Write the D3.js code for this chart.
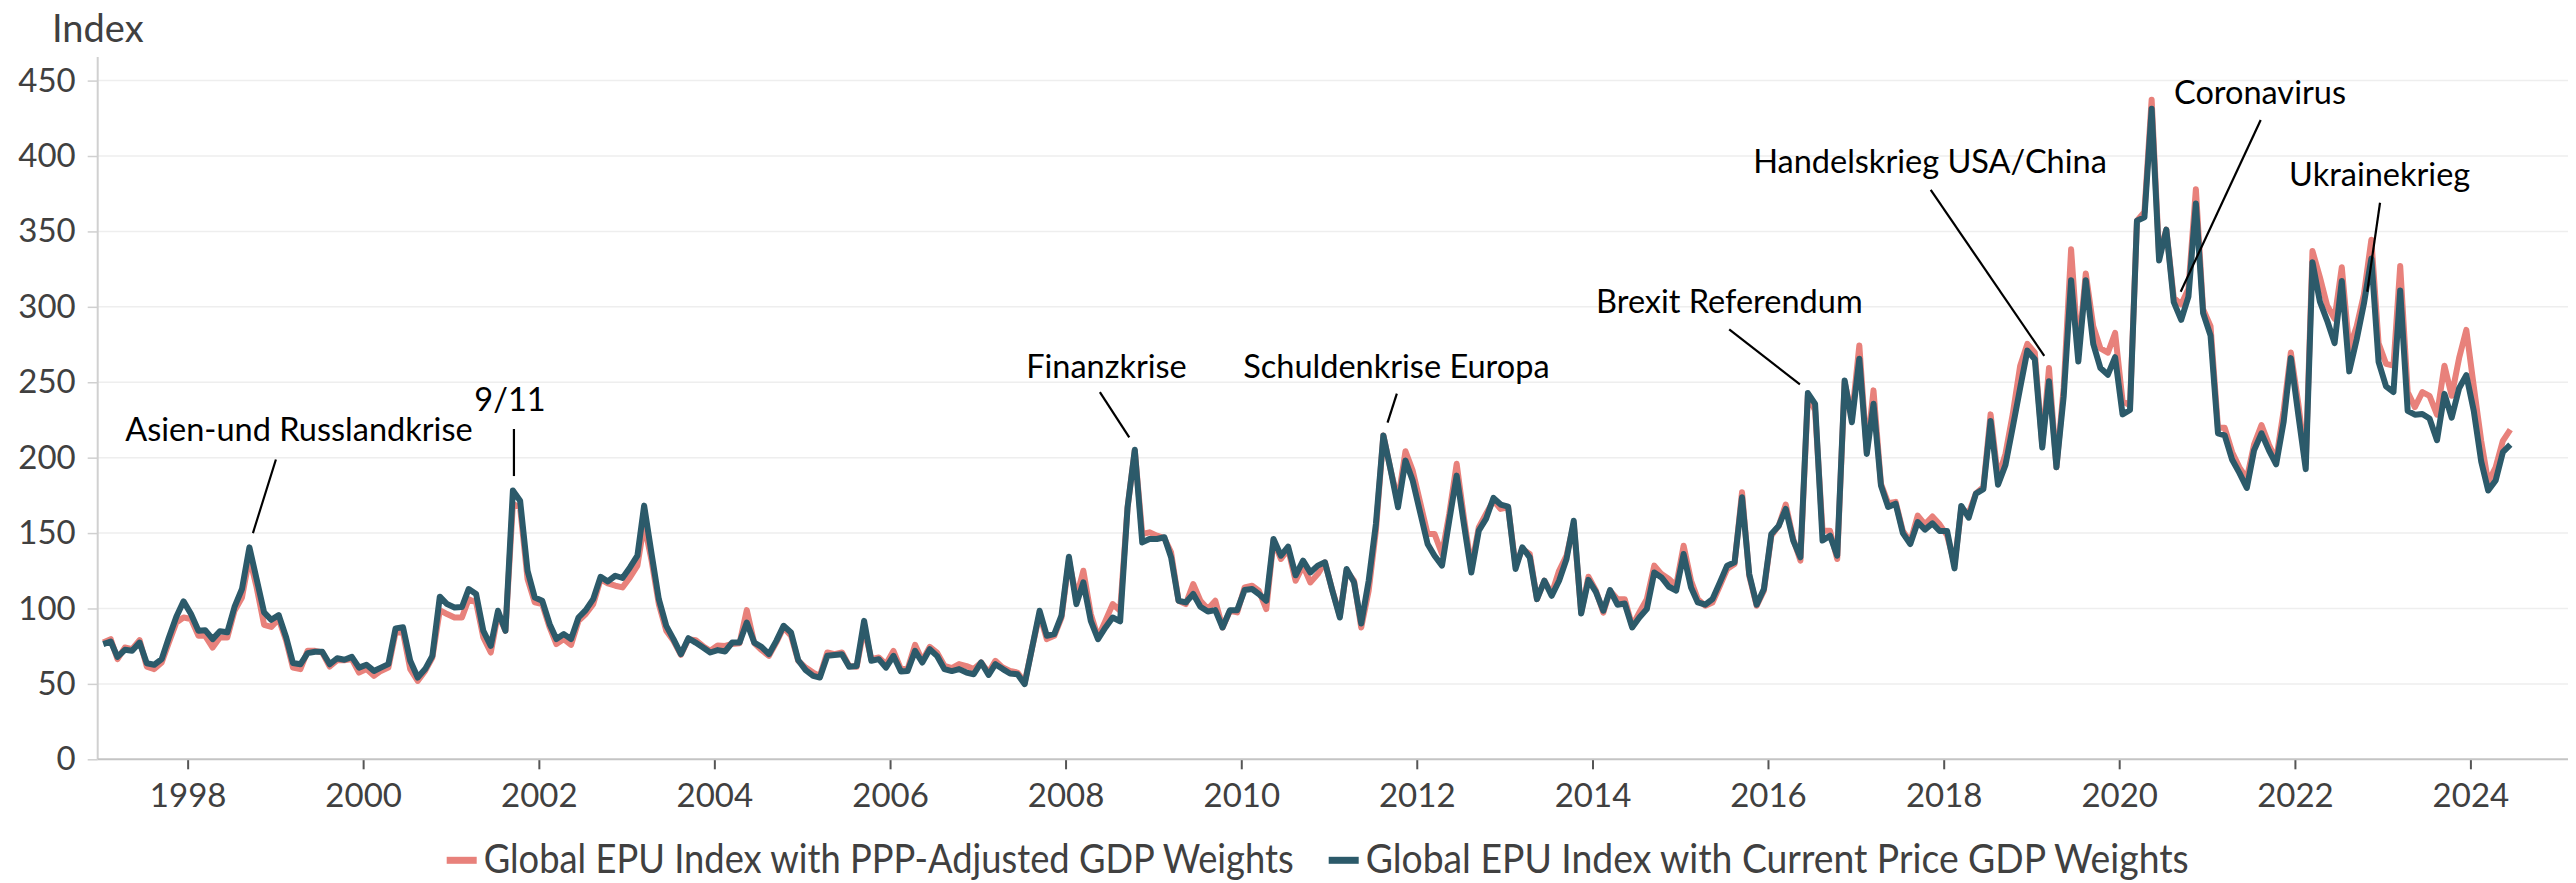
<!DOCTYPE html>
<html>
<head>
<meta charset="utf-8">
<script src="https://cdn.jsdelivr.net/npm/d3@7"></script>
<style>
    body { margin: 0; background: #fff; }
    svg { display: block; font-family: Lato, "Open Sans", sans-serif; }
</style>
</head>
<body>
<svg id="chart" width="2576" height="883"></svg>
<script>
// Monthly values, Jan 1997 - Jun 2024 (one row per year)
var currentWeights = [
    76.4, 78.1, 67.9, 72.6, 72.0, 77.4, 63.7, 62.7, 66.4, 80.8, 94.5, 104.7,
    96.3, 85.2, 85.6, 79.7, 84.9, 84.2, 101.0, 112.9, 140.5, 119.5, 97.4, 92.5,
    95.6, 80.8, 63.9, 63.0, 70.4, 71.3, 71.3, 63.0, 67.0, 66.0, 67.9, 60.8,
    62.7, 58.6, 60.8, 63.1, 86.8, 87.5, 65.3, 54.2, 59.8, 68.6, 107.8, 102.9,
    100.7, 101.0, 112.9, 109.6, 85.2, 75.2, 98.5, 85.2, 178.2, 171.5, 125.0, 107.3,
    105.1, 89.6, 79.7, 83.0, 79.7, 94.0, 98.9, 106.2, 121.0, 117.9, 121.7, 120.2,
    127.2, 135.0, 168.2, 136.1, 106.2, 88.5, 79.7, 69.7, 80.3, 77.4, 74.1, 70.8,
    72.4, 71.5, 77.4, 77.4, 90.7, 77.4, 74.6, 69.7, 78.5, 88.5, 84.1, 65.7,
    59.1, 55.3, 54.2, 68.6, 69.2, 69.7, 61.3, 61.8, 91.8, 65.3, 66.4, 60.8,
    68.6, 58.2, 58.5, 71.9, 64.2, 73.0, 68.6, 59.8, 58.5, 59.8, 57.5, 56.4,
    64.2, 56.0, 63.1, 59.8, 56.9, 56.4, 49.8, 74.1, 98.5, 81.9, 83.0, 95.2,
    134.3, 102.9, 117.3, 91.8, 79.7, 87.4, 94.0, 91.4, 167.1, 205.2, 143.8, 146.1,
    146.1, 147.2, 133.9, 105.1, 104.0, 109.6, 101.1, 98.0, 98.9, 87.4, 98.9, 98.9,
    112.2, 112.9, 109.6, 105.1, 146.1, 135.0, 141.0, 122.0, 131.7, 123.9, 128.4, 130.6,
    111.8, 94.0, 126.2, 117.3, 90.0, 118.4, 156.0, 214.7, 191.4, 167.1, 198.1, 184.8,
    163.7, 142.8, 135.0, 128.4, 158.2, 188.1, 156.0, 123.9, 151.6, 159.4, 173.3, 168.9,
    167.5, 126.2, 140.5, 133.9, 106.2, 118.4, 108.4, 118.4, 132.8, 158.2, 96.7, 119.0,
    111.0, 98.5, 112.2, 102.5, 103.3, 87.4, 94.0, 99.6, 123.9, 120.6, 114.4, 111.8,
    136.1, 113.9, 104.0, 102.5, 106.2, 117.3, 128.4, 130.6, 173.7, 122.8, 102.5, 112.9,
    149.4, 154.9, 166.0, 145.0, 133.9, 242.8, 235.7, 145.0, 148.3, 135.0, 251.2, 223.5,
    265.6, 202.5, 235.7, 181.5, 167.3, 169.5, 150.0, 142.7, 157.3, 152.3, 156.4, 151.4,
    151.4, 126.6, 168.0, 160.2, 176.2, 179.1, 224.3, 182.0, 195.2, 220.0, 246.2, 271.0,
    265.2, 206.8, 250.6, 193.7, 240.4, 317.7, 263.7, 317.7, 275.4, 259.4, 255.0, 266.6,
    228.7, 231.6, 357.1, 359.4, 431.4, 330.8, 351.2, 303.1, 291.4, 306.7, 368.5, 295.9,
    280.9, 216.1, 214.8, 198.6, 189.9, 179.9, 204.8, 216.1, 204.8, 195.6, 223.6, 266.0,
    228.5, 192.4, 329.5, 303.4, 290.9, 275.9, 317.1, 257.2, 278.4, 302.1, 332.0, 263.5,
    247.2, 243.5, 310.8, 231.0, 228.5, 229.0, 226.0, 211.6, 242.3, 226.5, 246.0, 254.7,
    231.0, 197.4, 178.2, 184.9, 203.6, 208.6
];

var pppWeights = [
    77.4, 79.7, 66.4, 74.1, 73.0, 79.0, 61.5, 59.8, 64.2, 77.4, 90.7, 94.0,
    93.0, 81.9, 81.9, 74.1, 80.8, 80.8, 98.5, 107.3, 133.9, 114.0, 89.2, 87.8,
    93.0, 78.6, 60.8, 59.8, 71.9, 71.9, 70.8, 61.5, 65.7, 65.7, 66.4, 57.5,
    59.8, 55.3, 58.6, 60.8, 84.1, 84.1, 59.8, 52.0, 58.6, 67.5, 98.9, 96.3,
    94.0, 94.0, 106.2, 104.0, 80.8, 70.8, 96.3, 85.2, 169.3, 167.1, 119.5, 104.0,
    102.9, 87.4, 76.4, 79.7, 75.9, 91.8, 96.3, 102.9, 119.5, 116.6, 115.1, 114.0,
    120.6, 128.4, 156.0, 131.7, 102.9, 85.2, 78.6, 69.3, 79.7, 79.0, 75.0, 72.0,
    75.5, 75.2, 76.5, 77.0, 98.9, 77.0, 72.5, 68.6, 77.5, 87.4, 82.0, 65.3,
    60.8, 57.5, 55.3, 70.8, 69.7, 70.8, 61.8, 61.3, 87.4, 66.4, 67.5, 63.1,
    71.9, 59.8, 59.8, 75.9, 65.3, 74.6, 70.8, 62.0, 60.4, 63.1, 61.8, 59.8,
    64.2, 57.5, 65.3, 60.8, 58.6, 57.5, 50.9, 74.1, 96.3, 79.7, 81.9, 94.0,
    131.7, 107.3, 125.0, 96.3, 80.8, 91.8, 102.9, 98.5, 167.1, 204.8, 149.4, 150.5,
    148.3, 146.6, 137.2, 105.1, 102.9, 116.2, 105.1, 99.6, 105.1, 87.4, 98.5, 97.4,
    114.0, 115.1, 111.8, 99.6, 145.0, 132.8, 139.4, 118.4, 128.4, 117.3, 122.8, 130.6,
    111.8, 95.2, 125.0, 118.4, 87.4, 111.8, 151.6, 214.7, 191.4, 171.5, 204.3, 191.4,
    170.4, 149.4, 149.4, 136.1, 162.7, 195.9, 160.4, 127.2, 153.8, 162.7, 171.5, 166.0,
    167.1, 128.4, 139.4, 136.1, 106.2, 118.4, 109.6, 125.0, 135.0, 156.0, 97.3, 121.0,
    112.0, 97.3, 111.8, 106.2, 106.2, 88.5, 97.3, 106.2, 128.4, 122.8, 119.5, 115.1,
    141.6, 118.4, 106.2, 101.8, 104.0, 115.1, 126.2, 129.5, 177.0, 121.7, 101.8, 111.8,
    148.3, 154.9, 168.9, 146.1, 131.7, 241.2, 231.3, 151.6, 151.6, 132.8, 250.1, 226.8,
    274.4, 203.6, 244.6, 182.6, 169.8, 170.7, 151.4, 144.1, 161.6, 155.8, 161.0, 155.8,
    148.5, 129.5, 166.0, 163.1, 176.2, 180.6, 228.7, 186.4, 202.5, 228.7, 260.8, 275.4,
    269.6, 208.3, 259.4, 193.7, 246.2, 338.1, 269.6, 322.1, 287.1, 272.5, 269.6, 282.7,
    237.5, 234.6, 357.1, 362.9, 437.3, 333.7, 351.2, 306.0, 301.6, 312.0, 378.0, 298.4,
    287.2, 219.8, 219.8, 203.6, 193.6, 186.1, 208.6, 221.6, 208.6, 198.6, 231.0, 269.7,
    236.0, 196.1, 337.0, 319.6, 300.9, 292.1, 326.3, 272.2, 287.2, 308.3, 344.5, 275.9,
    262.2, 261.0, 327.1, 243.5, 233.5, 243.5, 241.0, 228.5, 261.0, 241.0, 266.0, 284.7,
    247.2, 211.1, 183.7, 193.6, 211.1, 218.6
];

var yTicks = [0, 50, 100, 150, 200, 250, 300, 350, 400, 450];
var yearTicks = [1998, 2000, 2002, 2004, 2006, 2008, 2010, 2012,
    2014, 2016, 2018, 2020, 2022, 2024];
var legendLabels = ['Global EPU Index with PPP-Adjusted GDP Weights',
    'Global EPU Index with Current Price GDP Weights'];
var eventLabels = ['Asien-und Russlandkrise', '9/11', 'Finanzkrise',
    'Schuldenkrise Europa', 'Brexit Referendum', 'Handelskrieg USA/China',
    'Coronavirus', 'Ukrainekrieg'];

var colorPPP = '#e8817b',
    colorCurrent = '#2c5a6a',
    textColor = '#404040';

var svg = d3.select('#chart');

// first value is mid January 1997, one point per month
var startMonth = new Date(1997, 0, 15);
var toSeries = function(values) {
    return values.map(function(v, i) {
        return { date: d3.timeMonth.offset(startMonth, i), value: v };
    });
};

// fractional year -> Date, used to place the annotations
var yearToDate = function(yf) {
    var yr = Math.floor(yf);
    var a = new Date(yr, 0, 1), b = new Date(yr + 1, 0, 1);
    return new Date(+a + (yf - yr) * (b - a));
};

var plotLeft = 97.7, plotRight = 2568;

var x = d3.scaleTime()
    .domain([new Date(1997, 0, 1), new Date(2025, 1, 10)])
    .range([99.9, plotRight]);
var y = d3.scaleLinear()
    .domain([0, 450])
    .range([759.3, 80.6]);

// gridlines
svg.append('g').selectAll('line')
    .data(yTicks.filter(function(d) { return d > 0; }))
    .enter().append('line')
        .attr('x1', plotLeft)
        .attr('x2', plotRight)
        .attr('y1', function(d) { return y(d); })
        .attr('y2', function(d) { return y(d); })
        .attr('stroke', '#eeeeee')
        .attr('stroke-width', 1.5);

// y axis
var yAxis = svg.append('g')
    .attr('transform', 'translate(' + plotLeft + ',0)')
    .call(d3.axisLeft(y).tickValues(yTicks).tickSize(10).tickPadding(12));
yAxis.select('.domain').remove();
yAxis.selectAll('.tick line').attr('stroke', '#d0d0d0').attr('stroke-width', 1.5);
yAxis.selectAll('.tick text')
    .attr('fill', textColor)
    .style('font-size', '33px')
    .style('font-family', 'Lato, sans-serif');
svg.append('line')
    .attr('x1', plotLeft).attr('x2', plotLeft)
    .attr('y1', 57).attr('y2', y(0))
    .attr('stroke', '#d0d0d0')
    .attr('stroke-width', 2);

// x axis
var xAxis = svg.append('g')
    .attr('transform', 'translate(0,' + y(0) + ')')
    .call(d3.axisBottom(x)
        .tickValues(yearTicks.map(function(yr) { return new Date(yr, 0, 1); }))
        .tickFormat(d3.timeFormat('%Y'))
        .tickSize(10)
        .tickPadding(14));
xAxis.select('.domain').remove();
xAxis.selectAll('.tick line').attr('stroke', '#555').attr('stroke-width', 2);
xAxis.selectAll('.tick text')
    .attr('fill', textColor)
    .style('font-size', '33px')
    .style('font-family', 'Lato, sans-serif');
svg.append('line')
    .attr('x1', plotLeft).attr('x2', plotRight)
    .attr('y1', y(0)).attr('y2', y(0))
    .attr('stroke', '#c4c4c4')
    .attr('stroke-width', 2);

svg.append('text')
    .attr('x', 52)
    .attr('y', 42)
    .attr('fill', textColor)
    .style('font-size', '38px')
    .text('Index');

// series
var line = d3.line()
    .x(function(d) { return x(d.date); })
    .y(function(d) { return y(d.value); });

svg.append('path')
    .datum(toSeries(pppWeights))
    .attr('d', line)
    .attr('fill', 'none')
    .attr('stroke', colorPPP)
    .attr('stroke-width', 6)
    .attr('stroke-linejoin', 'round');

svg.append('path')
    .datum(toSeries(currentWeights))
    .attr('d', line)
    .attr('fill', 'none')
    .attr('stroke', colorCurrent)
    .attr('stroke-width', 6)
    .attr('stroke-linejoin', 'round');

// annotations: label anchor and leader line given as (year, index value)
var eventLayout = [
    { label: [1999.268, 211.0], from: [1999.006, 198.8], to: [1998.744, 150.0] },
    { label: [2001.671, 230.9], from: [2001.716, 219.0], to: [2001.716, 187.8] },
    { label: [2008.465, 252.8], from: [2008.390, 243.5], to: [2008.724, 213.5] },
    { label: [2011.768, 252.8], from: [2011.773, 242.5], to: [2011.667, 223.2] },
    { label: [2015.560, 296.1], from: [2015.558, 285.1], to: [2016.363, 248.6] },
    { label: [2017.844, 388.7], from: [2017.852, 377.6], to: [2019.146, 267.5] },
    { label: [2021.602, 434.5], from: [2021.610, 423.9], to: [2020.699, 310.0] },
    { label: [2022.966, 380.1], from: [2022.970, 369.0], to: [2022.824, 310.0] }
];

var events = svg.append('g').selectAll('g')
    .data(eventLabels)
    .enter().append('g');
events.append('line')
    .attr('x1', function(d, i) { return x(yearToDate(eventLayout[i].from[0])); })
    .attr('y1', function(d, i) { return y(eventLayout[i].from[1]); })
    .attr('x2', function(d, i) { return x(yearToDate(eventLayout[i].to[0])); })
    .attr('y2', function(d, i) { return y(eventLayout[i].to[1]); })
    .attr('stroke', '#000')
    .attr('stroke-width', 2.2);
events.append('text')
    .attr('x', function(d, i) { return x(yearToDate(eventLayout[i].label[0])); })
    .attr('y', function(d, i) { return y(eventLayout[i].label[1]); })
    .attr('text-anchor', 'middle')
    .attr('fill', '#000')
    .style('font-size', '32.5px')
    .text(function(d) { return d; });

// legend: the original uses a narrower face, so texts are fitted to its widths
var legend = svg.append('g').attr('transform', 'translate(446.7,873.3)');
var legendColors = [colorPPP, colorCurrent];
var legendTextWidths = [810, 823];
var cursor = 0;
legendLabels.forEach(function(label, i) {
    var item = legend.append('g').attr('transform', 'translate(' + cursor + ',0)');
    item.append('rect')
        .attr('x', 0)
        .attr('y', -16.5)
        .attr('width', 30)
        .attr('height', 7)
        .attr('fill', legendColors[i]);
    item.append('text')
        .attr('x', 37)
        .attr('y', 0)
        .attr('fill', textColor)
        .attr('textLength', legendTextWidths[i])
        .attr('lengthAdjust', 'spacingAndGlyphs')
        .style('font-size', '40px')
        .text(label);
    cursor += 37 + legendTextWidths[i] + 35;
});
</script>
</body>
</html>
